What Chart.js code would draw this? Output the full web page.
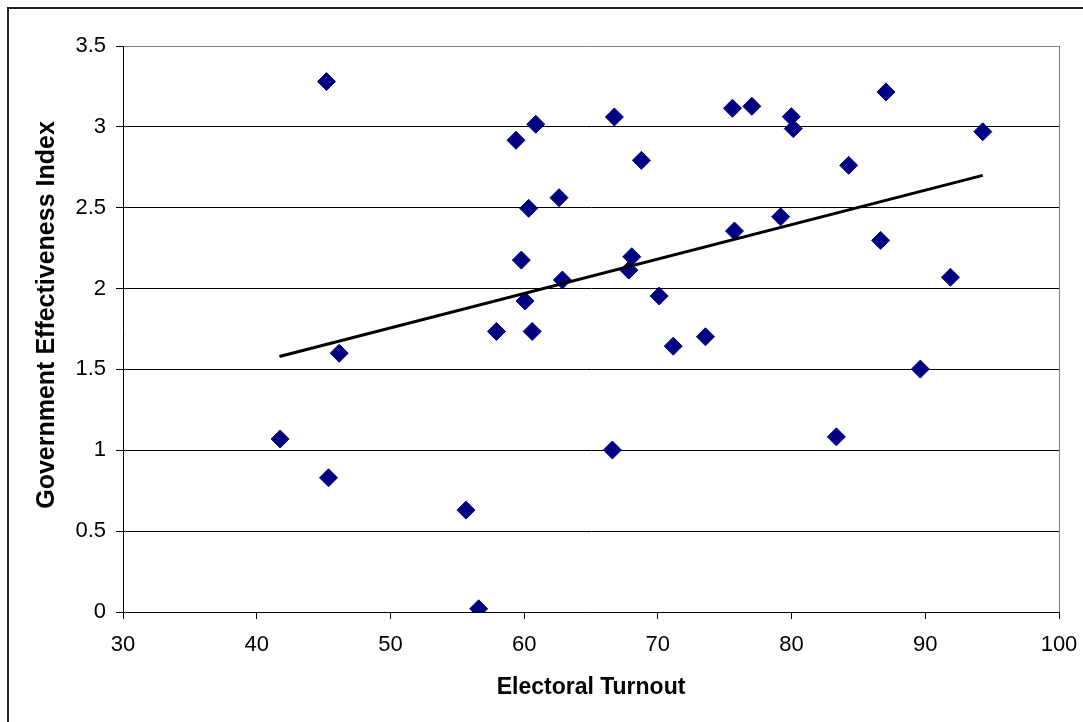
<!DOCTYPE html>
<html>
<head>
<meta charset="utf-8">
<script src="https://cdn.jsdelivr.net/npm/chart.js@4"></script>
<style>
html,body{margin:0;padding:0;background:#fff;}
canvas{display:block;}
</style>
</head>
<body>
<canvas id="c" width="1083" height="722"></canvas>
<script>
const turnout = [41.75,45.22,45.37,46.17,55.65,56.6,57.93,59.39,59.79,60.07,60.34,60.6,60.87,62.61,62.86,66.6,66.75,67.83,68.05,68.77,70.10,71.15,73.56,75.58,75.73,77.03,79.18,79.98,80.13,83.35,84.27,86.66,87.06,89.63,91.88,94.30];
const effectiveness = [1.07,3.28,0.83,1.60,0.63,0.02,1.735,2.917,2.176,1.923,2.496,1.735,3.016,2.562,2.053,1.002,3.061,2.114,2.197,2.793,1.954,1.644,1.702,3.115,2.356,3.127,2.444,3.063,2.989,1.083,2.762,2.298,3.216,1.502,2.07,2.970];
const trendX = [41.7, 94.3];
const trendY = [1.58, 2.70];
const xTicks = [30,40,50,60,70,80,90,100];
const yTicks = [0,0.5,1,1.5,2,2.5,3,3.5];
const xTitle = 'Electoral Turnout';
const yTitle = 'Government Effectiveness Index';

const points = turnout.map((x,i)=>({x:x,y:effectiveness[i]}));
const trend = trendX.map((x,i)=>({x:x,y:trendY[i]}));
const FONT = '"Liberation Sans", Arial, sans-serif';

const frame = {
  id:'frame',
  afterDraw(chart){
    const ctx = chart.ctx, a = chart.chartArea;
    ctx.save();
    ctx.strokeStyle = '#808080';
    ctx.lineWidth = 1;
    ctx.beginPath();
    ctx.moveTo(Math.round(a.right)+0.5, a.top);
    ctx.lineTo(Math.round(a.right)+0.5, a.bottom);
    ctx.stroke();
    ctx.strokeStyle = '#222';
    ctx.lineWidth = 2;
    ctx.strokeRect(8, 8, chart.width + 20, chart.height + 20);
    // vertical axis title
    ctx.fillStyle = '#000';
    ctx.font = 'bold 25px ' + FONT;
    ctx.textAlign = 'center';
    ctx.textBaseline = 'middle';
    ctx.translate(47, (a.top + a.bottom) / 2 - 14);
    ctx.rotate(-Math.PI / 2);
    ctx.fillText(yTitle, 0, 0);
    ctx.restore();
  }
};

new Chart(document.getElementById('c'), {
  type: 'scatter',
  data: {
    datasets: [
      {
        label: 'Trend',
        data: trend,
        showLine: true,
        borderColor: '#000',
        borderWidth: 3,
        pointRadius: 0,
        fill: false,
        order: 0
      },
      {
        label: 'Countries',
        data: points,
        pointStyle: 'rectRot',
        pointRadius: 9,
        pointHoverRadius: 9,
        backgroundColor: '#000080',
        borderColor: '#000080',
        borderWidth: 1,
        order: 1
      }
    ]
  },
  options: {
    responsive: false,
    animation: false,
    devicePixelRatio: 1,
    layout: { padding: { top: 46, right: 24, left: 0, bottom: 0 } },
    plugins: { legend: { display: false }, tooltip: { enabled: false } },
    scales: {
      x: {
        type: 'linear',
        min: 30, max: 100,
        afterBuildTicks(s){ s.ticks = xTicks.map(v=>({value:v})); },
        afterFit(s){ s.height = 110; s.paddingLeft = 0; s.paddingRight = 0; },
        grid: { drawOnChartArea: false, drawTicks: true, tickLength: 7, tickColor: '#000', color: '#000' },
        border: { color: '#000', width: 1 },
        ticks: { color: '#000', font: { family: FONT, size: 22 }, padding: 13, maxRotation: 0, callback: (v)=>String(v) },
        title: { display: true, text: xTitle, color: '#000', font: { family: FONT, size: 23, weight: 'bold' }, padding: { top: 0, bottom: 21 } }
      },
      y: {
        type: 'linear',
        min: 0, max: 3.5,
        afterBuildTicks(s){ s.ticks = yTicks.map(v=>({value:v})); },
        afterFit(s){ s.width = 123; s.paddingTop = 0; s.paddingBottom = 0; },
        grid: { drawTicks: true, tickLength: 7, tickColor: '#000', color: (c)=> (c.tick && c.tick.value === 3.5) ? '#808080' : '#000', lineWidth: 1 },
        border: { color: '#000', width: 1 },
        ticks: { color: '#000', font: { family: FONT, size: 22 }, padding: 10, callback: (v)=>String(v) },
        title: { display: false }
      }
    }
  },
  plugins: [frame]
});
</script>
</body>
</html>
